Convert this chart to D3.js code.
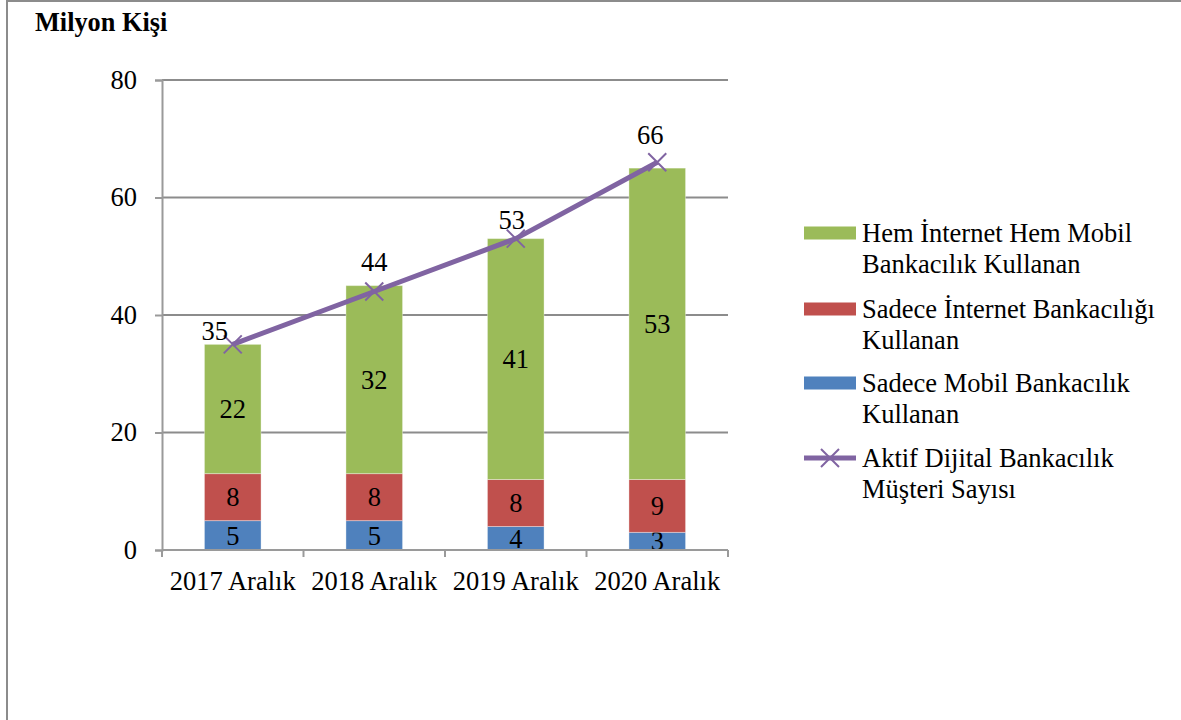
<!DOCTYPE html>
<html><head><meta charset="utf-8">
<script src="https://cdn.jsdelivr.net/npm/d3@7"></script>
<style>body{margin:0;background:#fff}svg{display:block}</style>
</head><body><svg id="c" width="1181" height="720"></svg>
<script>
const categories = ["2017 Aralık","2018 Aralık","2019 Aralık","2020 Aralık"];
const mobileOnly = [5,5,4,3];
const internetOnly = [8,8,8,9];
const both = [22,32,41,53];
const activeTotal = [35,44,53,66];
const yTicks = [0,20,40,60,80];
const seriesNames = ["Hem İnternet Hem Mobil|Bankacılık Kullanan","Sadece İnternet Bankacılığı|Kullanan","Sadece Mobil Bankacılık|Kullanan","Aktif Dijital Bankacılık|Müşteri Sayısı"];
const unitLabel = "Milyon Kişi";

const colors = {mobile:"#4F81BD", internet:"#C0504D", both:"#9BBB59", line:"#8064A2"};
const font = "'Liberation Serif','Times New Roman',serif";
const fs = 26.5;
const svg = d3.select("#c");

// frame
svg.append("rect").attr("x",7).attr("y",1).attr("width",1200).attr("height",760)
  .attr("fill","none").attr("stroke","#8c8c8c").attr("stroke-width",2);

svg.append("text").attr("x",35).attr("y",31).attr("font-family",font).attr("font-weight","bold")
  .attr("font-size",26.3).text(unitLabel);

const L=162, R=728, T=80, B=550;
const x = d3.scaleBand().domain(categories).range([L,R]).paddingInner(0.6).paddingOuter(0.3);
const y = d3.scaleLinear().domain([0,80]).range([B,T]);

// gridlines
svg.append("g").selectAll("line").data(yTicks.filter(d=>d>0)).join("line")
  .attr("x1",L).attr("x2",R).attr("y1",d=>y(d)).attr("y2",d=>y(d))
  .attr("stroke","#8c8c8c").attr("stroke-width",2);

// y axis
const ya = svg.append("g").attr("transform",`translate(${L},0)`)
  .call(d3.axisLeft(y).tickValues(yTicks).tickSize(7).tickPadding(18));
ya.select(".domain").attr("stroke","#9a9a9a").attr("stroke-width",2);
ya.selectAll(".tick line").attr("stroke","#9a9a9a").attr("stroke-width",2);
ya.selectAll("text").attr("font-family",font).attr("font-size",fs).attr("fill","#000");

// stacked bars
const rows = categories.map((c,i)=>({cat:c, mobile:mobileOnly[i], internet:internetOnly[i], both:both[i]}));
const keys = ["mobile","internet","both"];
const stack = d3.stack().keys(keys)(rows);
const g = svg.append("g");
stack.forEach(layer=>{
  g.selectAll(null).data(layer).join("rect")
    .attr("x",d=>x(d.data.cat)).attr("width",x.bandwidth())
    .attr("y",d=>y(d[1])).attr("height",d=>y(d[0])-y(d[1]))
    .attr("fill",colors[layer.key]).attr("stroke","#ffffff").attr("stroke-opacity",0.35).attr("stroke-width",1);
  g.selectAll(null).data(layer).join("text")
    .attr("x",d=>x(d.data.cat)+x.bandwidth()/2)
    .attr("y",d=>(y(d[0])+y(d[1]))/2)
    .attr("dy","0.35em").attr("text-anchor","middle")
    .attr("font-family",font).attr("font-size",fs).attr("fill","#000")
    .text(d=>d.data[layer.key]);
});

// x axis
const xa = svg.append("g").attr("transform",`translate(0,${B})`);
xa.append("line").attr("x1",L).attr("x2",R).attr("stroke","#9a9a9a").attr("stroke-width",2);
xa.selectAll(".tk").data(d3.range(categories.length+1)).join("line")
  .attr("x1",i=>L+i*(R-L)/categories.length).attr("x2",i=>L+i*(R-L)/categories.length)
  .attr("y1",0).attr("y2",7).attr("stroke","#9a9a9a").attr("stroke-width",2);
xa.selectAll("text").data(categories).join("text")
  .attr("x",d=>x(d)+x.bandwidth()/2).attr("y",40)
  .attr("text-anchor","middle").attr("font-family",font).attr("font-size",fs).attr("fill","#000")
  .text(d=>d);

// line
const pts = categories.map((c,i)=>[x(c)+x.bandwidth()/2, y(activeTotal[i])]);
svg.append("path").attr("d",d3.line()(pts)).attr("fill","none")
  .attr("stroke",colors.line).attr("stroke-width",5).attr("stroke-linejoin","round");
const m = 9;
svg.append("g").selectAll("path").data(pts).join("path")
  .attr("d",p=>`M${p[0]-m},${p[1]-m}L${p[0]+m},${p[1]+m}M${p[0]-m},${p[1]+m}L${p[0]+m},${p[1]-m}`)
  .attr("stroke",colors.line).attr("stroke-width",2);
const nudge = [[-18,-4],[0,-21],[-4,-10],[-7,-18]];
svg.append("g").selectAll("text").data(pts).join("text")
  .attr("x",(p,i)=>p[0]+nudge[i][0]).attr("y",(p,i)=>p[1]+nudge[i][1])
  .attr("text-anchor","middle").attr("font-family",font).attr("font-size",fs).attr("fill","#000")
  .text((p,i)=>activeTotal[i]);

// legend
const legY = [233,309,383,458];
const legColors = [colors.both, colors.internet, colors.mobile];
const lg = svg.append("g");
seriesNames.forEach((name,i)=>{
  const cy = legY[i];
  if(i<3){
    lg.append("rect").attr("x",804).attr("y",cy-6.5).attr("width",52).attr("height",13).attr("fill",legColors[i]);
  } else {
    lg.append("line").attr("x1",804).attr("x2",856).attr("y1",cy).attr("y2",cy).attr("stroke",colors.line).attr("stroke-width",5);
    lg.append("path").attr("d",`M${830-m},${cy-m}L${830+m},${cy+m}M${830-m},${cy+m}L${830+m},${cy-m}`).attr("stroke",colors.line).attr("stroke-width",2);
  }
  const t = lg.append("text").attr("font-family",font).attr("font-size",fs).attr("fill","#000");
  name.split("|").forEach((ln,j)=>{
    t.append("tspan").attr("x",862).attr("y",cy+9+j*31).text(ln);
  });
});
</script></body></html>
